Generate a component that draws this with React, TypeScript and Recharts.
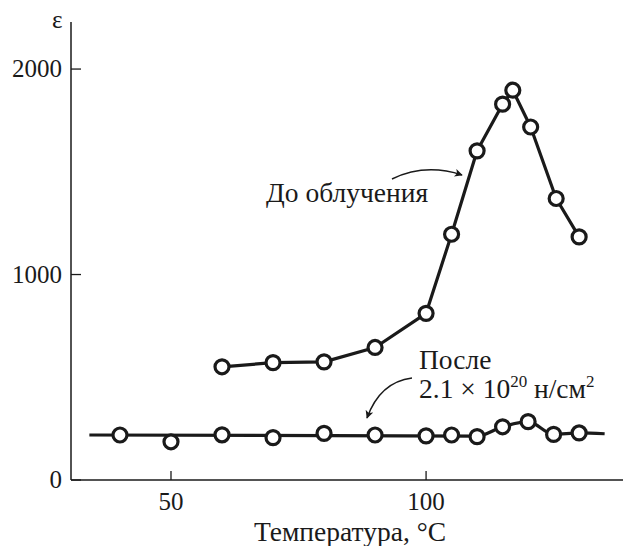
import React from 'react'
import { LineChart, Line, XAxis, YAxis, Label } from 'recharts'

// Permittivity vs temperature, before and after neutron irradiation
const beforeTemp = [60, 70, 80, 90, 100, 105, 110, 115, 117, 120.5, 125.5, 130]
const beforeEps = [551, 571, 575, 645, 811, 1196, 1602, 1829, 1897, 1718, 1370, 1183]

const afterTemp = [40, 50, 60, 70, 80, 90, 100, 105, 110, 115, 120, 125, 130]
const afterEps = [219, 186, 220, 206, 227, 219, 215, 219, 211, 259, 284, 222, 229]

// hand-drawn trend line through the irradiated points
const afterFitTemp = [34, 110, 115, 120, 125, 130, 135]
const afterFitEps = [219, 214, 259, 284, 222, 229, 225]

const xTicks = [50, 100]
const yTicks = [0, 1000, 2000]

const toRows = (xs: number[], ys: number[]) => xs.map((t, i) => ({ t, eps: ys[i] }))

const beforeData = toRows(beforeTemp, beforeEps)
const afterData = toRows(afterTemp, afterEps)
const afterFit = toRows(afterFitTemp, afterFitEps)

const W = 623
const H = 546
const FONT = '"Liberation Serif", "DejaVu Serif", serif'
const INK = '#1a1a1a'

const dotStyle = { r: 7, fill: '#fff', stroke: INK, strokeWidth: 3.2 }

const YTick = (props: any) => {
    const { x, y, payload } = props
    return (
        <g>
            <line x1={x} x2={x + 10} y1={y} y2={y} stroke={INK} strokeWidth={1.3} />
            <text x={x - 9} y={y} dy={8} textAnchor="end" fontFamily={FONT} fontSize={25} fill={INK}>
                {payload.value}
            </text>
        </g>
    )
}

const XTick = (props: any) => {
    const { x, y, payload } = props
    return (
        <g>
            <line x1={x} x2={x} y1={y} y2={y - 9} stroke={INK} strokeWidth={1.3} />
            <text x={x} y={y + 30} textAnchor="middle" fontFamily={FONT} fontSize={25} fill={INK}>
                {payload.value}
            </text>
        </g>
    )
}

export default function App() {
    return (
        <div style={{ position: 'absolute', left: 0, top: 0, width: W, height: H, background: '#fff' }}>
            <LineChart width={W} height={H} margin={{ top: 22, right: 0, left: 0, bottom: 0 }}>
                <XAxis
                    type="number"
                    dataKey="t"
                    domain={[30.4, 138.6]}
                    ticks={xTicks}
                    allowDataOverflow
                    height={66}
                    tickSize={0}
                    tickMargin={0}
                    tickLine={false}
                    tick={<XTick />}
                    axisLine={{ stroke: INK, strokeWidth: 1.5 }}
                >
                    <Label
                        value="Температура, °C"
                        position="insideBottom"
                        offset={5}
                        dx={3}
                        style={{ fontFamily: FONT, fontSize: 27.5, fill: INK }}
                    />
                </XAxis>
                <YAxis
                    type="number"
                    domain={[0, 2229]}
                    ticks={yTicks}
                    allowDataOverflow
                    width={71}
                    tickSize={0}
                    tickMargin={0}
                    tickLine={false}
                    tick={<YTick />}
                    axisLine={{ stroke: INK, strokeWidth: 1.5 }}
                />
                <Line
                    data={beforeData}
                    dataKey="eps"
                    type="linear"
                    stroke={INK}
                    strokeWidth={3.2}
                    strokeLinejoin="round"
                    dot={dotStyle}
                    activeDot={false}
                    isAnimationActive={false}
                />
                <Line
                    data={afterFit}
                    dataKey="eps"
                    type="monotone"
                    stroke={INK}
                    strokeWidth={3.2}
                    dot={false}
                    activeDot={false}
                    isAnimationActive={false}
                />
                <Line
                    data={afterData}
                    dataKey="eps"
                    stroke="none"
                    dot={dotStyle}
                    activeDot={false}
                    isAnimationActive={false}
                />
            </LineChart>

            <svg
                width={W}
                height={H}
                style={{ position: 'absolute', left: 0, top: 0, pointerEvents: 'none' }}
                fontFamily={FONT}
                fill={INK}
            >
                <defs>
                    <marker id="head" viewBox="0 0 10 10" refX={9} refY={5} markerWidth={11} markerHeight={8} markerUnits="userSpaceOnUse" orient="auto">
                        <path d="M0,0 L10,5 L0,10 L2.5,5 Z" fill={INK} />
                    </marker>
                </defs>

                <text x={52} y={28} fontSize={25}>ε</text>

                <text x={266} y={202} fontSize={27.5}>До облучения</text>
                <path d="M392,179 Q425,163 462,175" fill="none" stroke={INK} strokeWidth={1.5} markerEnd="url(#head)" />

                <text x={419} y={369} fontSize={27.5}>После</text>
                <text x={419} y={398} fontSize={27.5}>
                    2.1 × 10
                    <tspan fontSize={17} dy={-11}>20</tspan>
                    <tspan dy={11}> н/см</tspan>
                    <tspan fontSize={17} dy={-11}>2</tspan>
                </text>
                <path d="M412,378 Q380,382 367,418" fill="none" stroke={INK} strokeWidth={1.5} markerEnd="url(#head)" />
            </svg>
        </div>
    )
}
